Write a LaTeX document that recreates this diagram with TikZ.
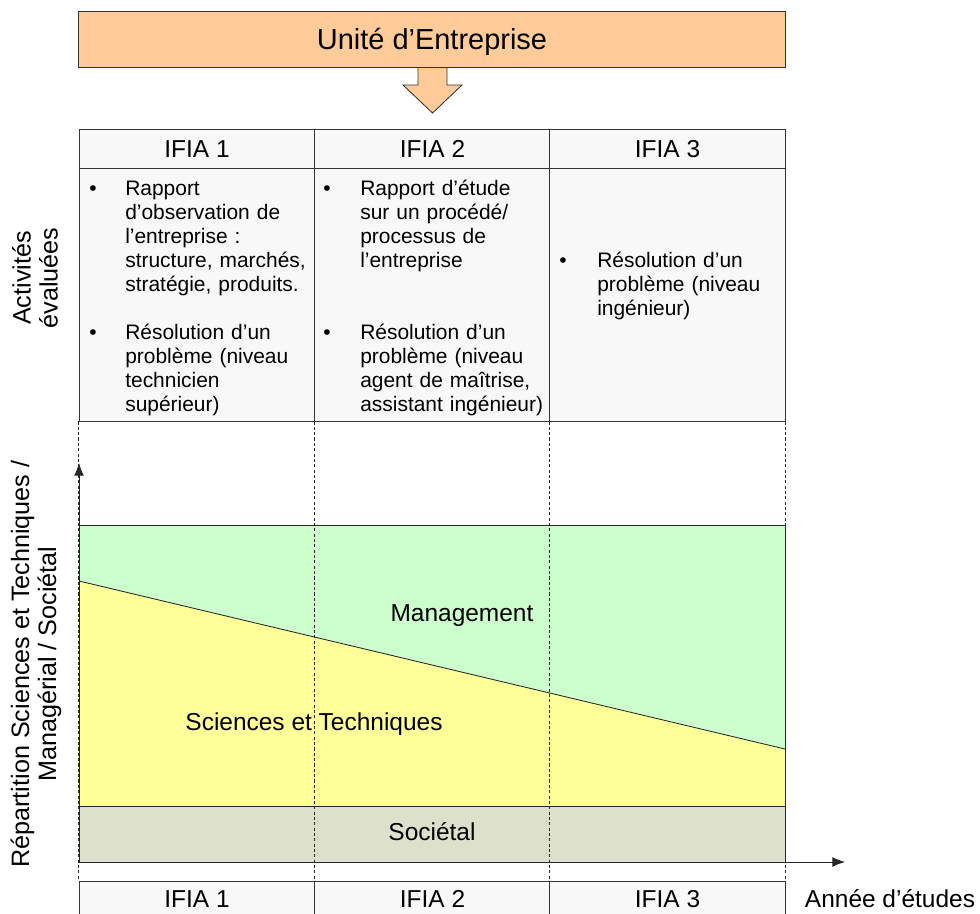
\documentclass[tikz,border=0pt]{standalone}
\usepackage{fontspec}
\setmainfont{Liberation Sans}
\usetikzlibrary{arrows.meta}
\definecolor{peach}{RGB}{255,204,153}
\definecolor{mgmtgreen}{RGB}{204,255,204}
\definecolor{styellow}{RGB}{255,255,153}
\definecolor{socgray}{RGB}{221,224,203}
\definecolor{cellgray}{RGB}{248,248,248}

\begin{document}
\begin{tikzpicture}[x=0.025cm, y=-0.025cm, >={Latex[length=9pt,width=7pt]}]
	\def\colw{5.8875cm}
	\tikzstyle{cell}=[draw=black!80, line width=0.6pt, fill=cellgray, minimum width=\colw, inner sep=0pt]
	\tikzstyle{big}=[font=\fontsize{17.4}{19.2}\selectfont]
	\tikzstyle{capped}=[text height=12.4pt, text depth=0pt]
	\tikzstyle{item}=[anchor=base west, inner sep=0pt, text width=5.2cm, align=left, font=\fontsize{14.9}{17.07}\selectfont]
	\tikzstyle{dot}=[anchor=base, inner sep=0pt, font=\fontsize{14.9}{17.07}\selectfont]
	\tikzstyle{sep}=[draw=black!85, dash pattern=on 2.2pt off 1.6pt, line width=0.5pt]
	\tikzstyle{band}=[draw=black!85, line width=0.6pt]
	\tikzstyle{side}=[rotate=90, align=center, font=\fontsize{17.9}{19.2}\selectfont]
	\path[use as bounding box, clip] (0,0) rectangle (980,914);
	
	\node[draw=black!80, line width=0.6pt, fill=peach, minimum width=17.65cm, minimum height=1.4cm, text height=14.7pt, text depth=0pt, font=\fontsize{20.6}{23}\selectfont](ue) at (432,39) {Unité d’Entreprise};
	\path[draw=black!80, line width=0.6pt, fill=peach] (418,68) -- (418,85) -- (403,85) -- (432.5,113) -- (462,85) -- (447,85) -- (447,68);
	
	\foreach \y/\x in {1/197,2/432.5,3/667.5}
	\node[cell, minimum height=0.975cm, big, capped](hd-\y) at (\x,148.5) {IFIA \y};
	
	\foreach \y/\x in {1/197,2/432.5,3/667.5}
	\node[cell, minimum height=6.325cm](ac-\y) at (\x,294.5) {};
	
	\foreach \y/\x in {1/197,2/432.5,3/667.5}
	\node[cell, minimum height=0.9cm, big, capped](yr-\y) at (\x,899) {IFIA \y};
	
	\fill[mgmtgreen] (79,525) rectangle (785,806);
	\fill[styellow] (79,581) -- (785,749) -- (785,806) -- (79,806) -- cycle;
	\fill[socgray] (79,806) rectangle (785,862);
	\draw[band] (79,525) -- (785,525) -- (785,862);
	\draw[band] (79,581) -- (785,749);
	\draw[band] (79,806) -- (785,806);
	
	\foreach \y in {1,...,3}
	\draw[sep] (ac-\y.south west) -- (yr-\y.north west);
	\draw[sep] (ac-3.south east) -- (yr-3.north east);
	
	\coordinate (o) at (79,862);
	\coordinate (ytip) at (79,463);
	\coordinate (xtip) at (845,862);
	\draw[->, line width=0.6pt, black!85] (o) -- (ytip);
	\draw[->, line width=0.6pt, black!85] (o) -- (xtip);
	
	\node[item](it-1a) at (125,195) {Rapport\\d’observation de\\l’entreprise :\\structure, marchés,\\stratégie, produits.};
	\node[item](it-1b) at (125,339) {Résolution d’un\\problème (niveau\\technicien\\supérieur)};
	\node[item](it-2a) at (360,195) {Rapport d’étude\\sur un procédé/\\processus de\\l’entreprise};
	\node[item](it-2b) at (360,339) {Résolution d’un\\problème (niveau\\agent de maîtrise,\\assistant ingénieur)};
	\node[item](it-3a) at (597,267) {Résolution d’un\\problème (niveau\\ingénieur)};
	\foreach \n/\x/\y in {1a/93/195,1b/93/339,2a/327/195,2b/327/339,3a/563/267}
	\node[dot](bu-\n) at (\x,\y) {•};
	
	\node[big](mgmt) at (462,616) {Management};
	\node[big](st) at (314,724) {Sciences et Techniques};
	\node[big, capped](soc) at (432,832) {Sociétal};
	\node[big, capped](yr) at (890,898.5) {Année d’études};
	
	\node[side](act) at (35,278) {Activités\\évaluées};
	\node[side](rep) at (36,664) {Répartition Sciences et Techniques /\\Managérial / Sociétal};
\end{tikzpicture}
\end{document}
